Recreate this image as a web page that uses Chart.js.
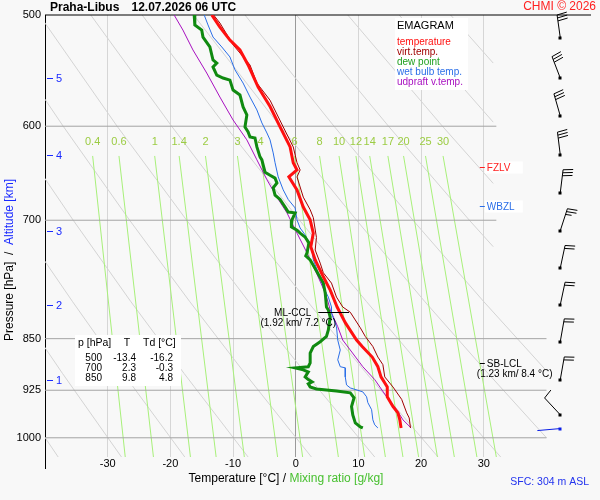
<!DOCTYPE html>
<html>
<head>
<meta charset="utf-8">
<script src="https://cdn.jsdelivr.net/npm/chart.js@4.4.1/dist/chart.umd.min.js"></script>
<style>
  html, body { margin: 0; padding: 0; background: #f8f8f8; }
</style>
</head>
<body>
<canvas id="emagram" width="600" height="500"></canvas>
<script>
// --- sounding: Praha-Libus 12.07.2026 06 UTC (pressure hPa / temperature degC) ---
const tempP = [500, 510, 521, 529.5, 542.7, 562.7, 581, 600.7, 620.7, 637, 644.6, 652, 666, 685, 699.6, 715, 731, 747, 768, 785, 807, 815, 828, 852, 861, 876, 890, 905, 920, 935, 950, 960, 971, 984];
const tempT = [-13.4, -12.1, -10.5, -8.9, -7.6, -6.0, -4.1, -2.5, -0.9, -0.4, 0.2, -1.1, 0.2, 1.2, 2.3, 2.8, 2.4, 3.1, 4.4, 5.5, 6.6, 7.1, 7.9, 9.7, 10.6, 12.2, 13.1, 13.6, 14.6, 14.6, 15.5, 16.3, 16.6, 16.8];

const virtP = [500, 506.6, 525, 542.7, 559, 575, 600.7, 620.7, 637, 644.6, 652, 674, 688, 697, 720, 735, 751, 763, 776, 794, 807, 814, 835, 847, 861, 876, 887, 905, 920, 939, 960, 968, 984];
const virtT = [-13.1, -12.1, -10.0, -7.3, -6.2, -4.1, -2.0, -0.4, 0.2, 0.7, 0.2, 1.2, 2.3, 2.8, 3.3, 3.1, 3.9, 4.4, 5.7, 6.5, 7.5, 8.7, 10.3, 11.1, 12.3, 13.1, 13.9, 14.2, 15.5, 16.9, 17.7, 18.1, 18.3];

const dewP = [500, 508.2, 512.5, 518.4, 526.9, 538.3, 541, 544.5, 551.7, 554.4, 556.3, 565.5, 570.1, 581.4, 589, 600.7, 605.7, 610.7, 611.7, 620.7, 631, 634, 639.3, 647, 650.3, 653.3, 658.5, 663.9, 671.7, 676.6, 685, 690.6, 691.6, 699.6, 707.6, 711.4, 715, 719.7, 725.3, 726.5, 738.5, 742, 747, 776, 788.6, 807, 811, 820.4, 837.9, 847, 854.3, 861, 870.2, 884.4, 890, 891.7, 894.6, 897.6, 905, 909, 912.4, 915.4, 920, 923, 926, 929, 936.4, 950, 963.2, 976, 982.3, 984];
const dewT = [-16.2, -16.1, -15.0, -14.8, -13.7, -13.2, -12.6, -13.2, -12.6, -11.6, -10.5, -10.0, -8.9, -8.4, -7.8, -8.1, -7.6, -7.3, -6.5, -6.2, -5.7, -5.4, -5.2, -4.9, -4.1, -3.3, -3.0, -3.6, -3.3, -2.5, -1.7, -1.2, -0.1, -0.6, -0.7, 0.2, 0.7, 1.5, 2.0, 2.1, 1.8, 1.6, 2.3, 4.4, 4.7, 4.9, 5.2, 5.5, 5.2, 4.9, 3.9, 2.8, 2.3, 2.3, 2.0, -0.1, 1.2, 2.0, 1.5, 2.0, 2.6, 2.0, 2.3, 3.3, 6.5, 8.7, 9.3, 8.9, 9.1, 9.5, 10.3, 10.7];

const wetP = [500, 508.2, 518.4, 526.9, 535.6, 547, 559, 572, 584.2, 596.8, 606.7, 613.6, 626.8, 637, 652, 666, 676.6, 686, 699.6, 709, 717, 725.3, 735, 747, 763.2, 781, 794, 807, 815, 833.5, 852, 866, 880, 890, 891.7, 905, 917, 921.5, 927.5, 935, 944, 955, 971, 979, 984];
const wetT = [-14.6, -14.0, -13.2, -11.8, -10.5, -9.7, -8.4, -7.3, -6.2, -5.4, -4.6, -4.1, -3.6, -3.3, -2.8, -2.0, -1.2, -0.1, 0.2, 0.7, 1.5, 2.0, 2.6, 2.8, 3.6, 4.4, 5.2, 5.7, 5.7, 6.5, 6.7, 7.1, 6.7, 7.1, 7.9, 7.9, 8.1, 8.7, 10.7, 11.3, 11.5, 12.1, 12.3, 12.6, 13.1];

const updP = [500, 512.5, 529.5, 549.9, 572, 593.9, 613.6, 634, 655, 674, 691.6, 715, 738.5, 763.2, 788.6, 801.7, 811, 833.5, 852, 866, 890, 909, 935, 955, 971, 984];
const updT = [-19.4, -18.0, -16.4, -14.2, -12.1, -10.0, -7.8, -6.2, -4.6, -3.0, -1.4, 0.2, 1.8, 3.3, 4.7, 5.2, 5.5, 6.7, 7.5, 8.7, 10.7, 12.6, 14.5, 16.1, 17.1, 18.4];

// wind barbs every 0.5 km (pressure, direction deg, speed kt), last one = surface
const barbP = [519, 554.5, 590, 629, 669, 712, 757, 804, 854, 909, 963, 985];
const barbDir = [352, 339, 344, 353, 7, 18, 12, 12, 10, 10, 317, 265];
const barbSpd = [30, 30, 30, 30, 30, 25, 20, 20, 20, 20, 10, 2];

// altitude marks on the pressure axis
const altKm = [1, 2, 3, 4, 5];
const altP = [909, 804, 712, 629, 554.5];

// table of standard levels
const tableP = [500, 700, 850];
const tableT = [-13.4, 2.3, 9.8];
const tableTd = [-16.2, -0.3, 4.8];

// diagnosed levels (hPa)
const fzlvP = 641;
const wbzlP = 684;
const sbLclP = 884;
const mlCclP = 813;

// axis ticks
const pTicks = [500, 600, 700, 850, 925, 1000];
const tTicks = [-30, -20, -10, 0, 10, 20, 30];

// background: isobars, mixing ratio lines, dry adiabats (T degC, p hPa)
const isobarP = [600, 700, 850, 925, 1000];
const isobarEndT = [32, 32, 40, 40, 40];

const mixLabels = ['0.4', '0.6', '1', '1.4', '2', '3', '4', '6', '8', '10', '12', '14', '17', '20', '25', '30'];
const mixTopT = [-32.4, -28.2, -22.5, -18.6, -14.4, -9.3, -5.6, -0.2, 3.8, 6.9, 9.6, 11.8, 14.7, 17.2, 20.7, 23.5];
const mixBotT = [-27.2, -22.7, -16.8, -12.7, -8.2, -2.9, 1.1, 6.8, 11.0, 14.3, 17.1, 19.6, 22.6, 25.3, 28.9, 32.0];
const mixTopP = 630;
const mixBotP = 1032;

const dryAdiabats = [
  [[-46.9, 900], [-37.9, 1032]],
  [[-45.0, 800], [-37.2, 900], [-27.8, 1032]],
  [[-44.5, 700], [-35.6, 800], [-27.5, 900], [-17.7, 1032]],
  [[-45.7, 600], [-35.5, 700], [-26.3, 800], [-17.8, 900], [-7.6, 1032]],
  [[-49.1, 500], [-37.1, 600], [-26.5, 700], [-16.9, 800], [-8.1, 900], [2.5, 1032]],
  [[-40.9, 500], [-28.5, 600], [-17.4, 700], [-7.5, 800], [1.6, 900], [12.6, 1032]],
  [[-32.7, 500], [-19.8, 600], [-8.4, 700], [1.9, 800], [11.3, 900], [22.7, 1032]],
  [[-24.5, 500], [-11.2, 600], [0.6, 700], [11.3, 800], [21.0, 900], [32.7, 1032]],
  [[-16.3, 500], [-2.5, 600], [9.7, 700], [20.6, 800], [30.7, 900], [40.0, 1000]],
  [[-8.1, 500], [6.1, 600], [18.7, 700], [30.0, 800], [40.0, 896]],
  [[0.1, 500], [14.8, 600], [27.7, 700], [31.5, 731]],
  [[8.3, 500], [23.4, 600], [31.5, 659]],
  [[16.5, 500], [31.5, 596]],
  [[24.7, 500], [31.5, 541]]
];

// --- look ---
const FAM = '"Liberation Sans", Arial, Helvetica, sans-serif';
const C_TEMP = '#ff1010';
const C_VIRT = '#a00000';
const C_DEW = '#108a10';
const C_WET = '#2a6ee8';
const C_UPD = '#a810c0';
const C_ALT = '#1a2aff';
const C_MIX = '#a8f07a';
const C_MIXTXT = '#9ccc44';
const BARB_T = 42.2;
const MIX_LABEL_P = 616;

const pts = (ps, ts) => ps.map((p, i) => ({ x: ts[i], y: p }));

const line = (data, color, width, order, extra = {}) => ({
  data,
  borderColor: color,
  borderWidth: width,
  pointRadius: 0,
  fill: false,
  tension: 0,
  order,
  ...extra,
});

const datasets = [
  line(pts(tempP, tempT), C_TEMP, 3, 1),
  line(pts(dewP, dewT), C_DEW, 3, 2),
  line(pts(virtP, virtT), C_VIRT, 1, 3),
  line(pts(wetP, wetT), C_WET, 1, 4),
  line(pts(updP, updT), C_UPD, 1, 5),
  line([{ x: -40, y: 500 }, { x: 47.1, y: 500 }], '#000', 1, 6, { clip: false }),
];
isobarP.forEach((p, i) => datasets.push(line([{ x: -40, y: p }, { x: isobarEndT[i], y: p }], '#a4a4a4', 1, 20)));
mixTopT.forEach((t, i) => datasets.push(line([{ x: t, y: mixTopP }, { x: mixBotT[i], y: mixBotP }], C_MIX, 1, 21)));
dryAdiabats.forEach((a) => datasets.push(line(a.map(([t, p]) => ({ x: t, y: p })), '#d4d4d4', 1, 22)));

function put(ctx, s, px, py, size, color, align = 'left', weight = 'normal') {
  ctx.font = `${weight} ${size}px ${FAM}`;
  ctx.fillStyle = color;
  ctx.textAlign = align;
  ctx.textBaseline = 'middle';
  ctx.fillText(s, px, py);
}

function runs(ctx, parts, cx, cy, size) {
  ctx.font = `${size}px ${FAM}`;
  ctx.textAlign = 'left';
  ctx.textBaseline = 'middle';
  const w = parts.reduce((a, [s]) => a + ctx.measureText(s).width, 0);
  let px = cx - w / 2;
  parts.forEach(([s, c]) => {
    ctx.fillStyle = c;
    ctx.fillText(s, px, cy);
    px += ctx.measureText(s).width;
  });
}

function seg(ctx, x1, y1, x2, y2, color, width = 1) {
  ctx.strokeStyle = color;
  ctx.lineWidth = width;
  ctx.beginPath();
  ctx.moveTo(x1, y1);
  ctx.lineTo(x2, y2);
  ctx.stroke();
}

const background = {
  id: 'background',
  beforeDraw(chart) {
    const { ctx, width, height } = chart;
    ctx.save();
    ctx.fillStyle = '#f8f8f8';
    ctx.fillRect(0, 0, width, height);
    ctx.restore();
  },
};

const annotations = {
  id: 'annotations',
  afterDatasetsDraw(chart) {
    const { ctx, chartArea: area, scales: { x, y } } = chart;
    ctx.save();

    // mixing ratio labels
    mixLabels.forEach((s, i) => {
      put(ctx, s, x.getPixelForValue(mixTopT[i]), y.getPixelForValue(MIX_LABEL_P), 11, C_MIXTXT, 'center');
    });

    // altitude marks
    altKm.forEach((km, i) => {
      const py = Math.round(y.getPixelForValue(altP[i])) + 0.5;
      seg(ctx, area.left + 2, py, area.left + 8, py, C_ALT);
      put(ctx, String(km), area.left + 11, py, 11, C_ALT);
    });

    // legend box
    ctx.fillStyle = '#fff';
    ctx.fillRect(395, 18, 73, 72);
    put(ctx, 'EMAGRAM', 397, 26, 11, '#000');
    [['temperature', C_TEMP], ['virt.temp.', C_VIRT], ['dew point', '#20a020'], ['wet bulb temp.', C_WET], ['udpraft v.temp.', C_UPD]]
      .forEach(([s, c], i) => put(ctx, s, 397, 42 + i * 10, 10, c));

    // standard levels table
    ctx.fillStyle = '#fff';
    ctx.fillRect(75, 335, 106, 51);
    put(ctx, 'p [hPa]', 78, 343, 10.5, '#000');
    put(ctx, 'T', 127, 343, 10.5, '#000', 'center');
    put(ctx, 'Td [°C]', 143, 343, 10.5, '#000');
    tableP.forEach((p, i) => {
      const ry = 358.5 + i * 10;
      put(ctx, String(p), 102, ry, 10, '#000', 'right');
      put(ctx, tableT[i].toFixed(1), 136, ry, 10, '#000', 'right');
      put(ctx, tableTd[i].toFixed(1), 173, ry, 10, '#000', 'right');
    });

    // freezing / wet bulb zero levels
    const x30 = x.getPixelForValue(30);
    [[fzlvP, 'FZLV', '#ff2020'], [wbzlP, 'WBZL', C_WET]].forEach(([p, s, c]) => {
      const py = Math.round(y.getPixelForValue(p)) + 0.5;
      ctx.fillStyle = '#fff';
      ctx.fillRect(x30 + 1, py - 6, 38, 12);
      seg(ctx, x30 - 4, py, x30 + 1, py, c);
      put(ctx, s, x30 + 3, py + 0.5, 10, c);
    });

    // surface based LCL
    const lclY = Math.round(y.getPixelForValue(sbLclP)) + 0.5;
    seg(ctx, x30 - 4, lclY, x30 + 1, lclY, '#000');
    put(ctx, 'SB-LCL', x30 + 3, lclY + 0.5, 10, '#000');
    put(ctx, '(1.23 km/ 8.4 °C)', x30 - 7, lclY + 11, 10, '#000');

    // mixed layer CCL
    const cclY = Math.round(y.getPixelForValue(mlCclP)) + 0.5;
    const cclX = x.getPixelForValue(3.6);
    seg(ctx, cclX, cclY, x.getPixelForValue(8.5), cclY, '#000');
    put(ctx, 'ML-CCL', cclX - 7, cclY + 1, 10, '#000', 'right');
    put(ctx, '(1.92 km/ 7.2 °C)', cclX - 20, cclY + 11, 10, '#000', 'center');

    // wind barbs
    const bx = x.getPixelForValue(BARB_T);
    barbP.forEach((p, i) => {
      const by = y.getPixelForValue(p);
      const col = i === barbP.length - 1 ? '#0a1ee6' : '#000';
      const a = barbDir[i] * Math.PI / 180;
      const ux = Math.sin(a);
      const uy = -Math.cos(a);
      const px = -uy;
      const py = ux;
      const L = 23;
      const tx = bx + ux * L;
      const ty = by + uy * L;
      seg(ctx, bx, by, tx, ty, col);
      let s = barbSpd[i];
      let pos = 0;
      while (s >= 10) {
        const sx = tx - ux * pos;
        const sy = ty - uy * pos;
        seg(ctx, sx, sy, sx + px * 10 + ux * 1.5, sy + py * 10 + uy * 1.5, col);
        pos += 3;
        s -= 10;
      }
      if (s >= 5) {
        const sx = tx - ux * pos;
        const sy = ty - uy * pos;
        seg(ctx, sx, sy, sx + px * 6 + ux, sy + py * 6 + uy, col);
      }
      ctx.fillStyle = col;
      ctx.fillRect(Math.round(bx) - 1.5, Math.round(by) - 1.5, 3, 3);
    });

    ctx.restore();
  },
  afterDraw(chart) {
    const { ctx, chartArea: area } = chart;
    ctx.save();

    // axis line runs a bit below the plot
    seg(ctx, area.left + 0.5, area.bottom, area.left + 0.5, area.bottom + 12, '#000');

    put(ctx, 'Praha-Libus', 50, 8, 12, '#000', 'left', 'bold');
    put(ctx, '12.07.2026 06 UTC', 131.5, 8, 12, '#000', 'left', 'bold');
    put(ctx, 'CHMI © 2026', 596, 7, 12, '#ff2020', 'right');

    runs(ctx, [['Temperature [°C]', '#000'], [' / ', '#000'], ['Mixing ratio [g/kg]', '#48c030']], 286, 479, 12);

    ctx.translate(10, 260);
    ctx.rotate(-Math.PI / 2);
    runs(ctx, [['Pressure [hPa]', '#000'], ['  /  ', '#000'], ['Altitude [km]', C_ALT]], 0, 0, 12);
    ctx.setTransform(1, 0, 0, 1, 0, 0);

    put(ctx, 'SFC: 304 m ASL', 589, 482, 10.5, '#2233ee', 'right');
    ctx.restore();
  },
};

new Chart(document.getElementById('emagram'), {
  type: 'line',
  data: { datasets },
  options: {
    responsive: false,
    animation: false,
    devicePixelRatio: 1,
    events: [],
    layout: { padding: { top: 15, right: 9, left: 0, bottom: 0 } },
    plugins: { legend: { display: false }, tooltip: { enabled: false } },
    scales: {
      x: {
        type: 'linear',
        bounds: 'data',
        min: -40,
        max: 47.1,
        afterBuildTicks: (s) => { s.ticks = tTicks.map((v) => ({ value: v })); },
        afterFit: (s) => { s.height = 43; },
        ticks: {
          autoSkip: false,
          maxRotation: 0,
          padding: 0,
          color: '#000',
          font: { family: FAM, size: 11 },
          callback: (v) => String(v),
        },
        grid: {
          drawTicks: false,
          color: (c) => (c.tick && c.tick.value === 0 ? '#9a9a9a' : '#d6d6d6'),
        },
        border: { display: false },
      },
      y: {
        type: 'logarithmic',
        bounds: 'data',
        reverse: true,
        min: 500,
        max: 1032,
        afterBuildTicks: (s) => { s.ticks = pTicks.map((v) => ({ value: v })); },
        afterFit: (s) => { s.width = 45; },
        ticks: {
          autoSkip: false,
          padding: 4,
          color: '#000',
          font: { family: FAM, size: 11 },
          callback: (v) => String(v),
        },
        grid: { display: false, drawTicks: false },
        border: { display: true, color: '#000', width: 1 },
      },
    },
  },
  plugins: [background, annotations],
});
</script>
</body>
</html>
